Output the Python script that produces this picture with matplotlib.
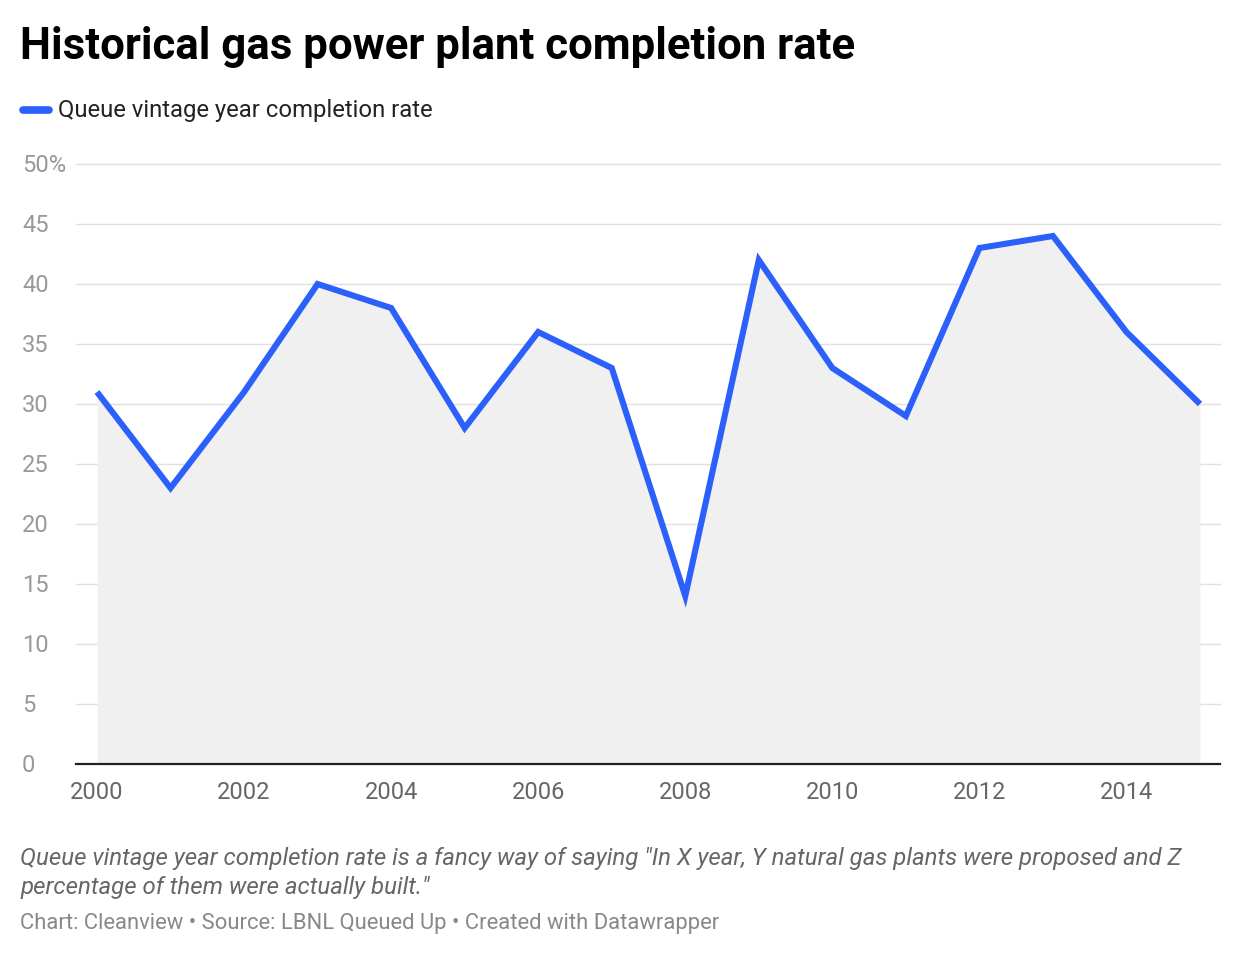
import matplotlib.pyplot as plt

plt.rcParams['font.family'] = ['Roboto', 'DejaVu Sans']

# Data
years = [2000, 2001, 2002, 2003, 2004, 2005, 2006, 2007,
         2008, 2009, 2010, 2011, 2012, 2013, 2014, 2015]
rate = [31, 23, 31, 40, 38, 28, 36, 33,
        14, 42, 33, 29, 43, 44, 36, 30]
y_ticks = [0, 5, 10, 15, 20, 25, 30, 35, 40, 45, 50]
y_labels = ['0', '5', '10', '15', '20', '25', '30', '35', '40', '45', '50%']
x_ticks = [2000, 2002, 2004, 2006, 2008, 2010, 2012, 2014]

title = "Historical gas power plant completion rate"
series_name = "Queue vintage year completion rate"
note = ('Queue vintage year completion rate is a fancy way of saying "In X year, '
        'Y natural gas plants were proposed and Z\npercentage of them were actually built."')
source = "Chart: Cleanview \u2022 Source: LBNL Queued Up \u2022 Created with Datawrapper"

W, H = 1240, 956
fig = plt.figure(figsize=(W / 100, H / 100), dpi=100)
ax = fig.add_axes([76 / W, 1 - 764 / H, (1220 - 76) / W, (764 - 164) / H])

blue = '#2b60fa'
ax.fill_between(years, rate, 0, color='#f0f0f0', lw=0, zorder=1)
ax.plot(years, rate, color=blue, lw=4.4, solid_joinstyle='miter',
        solid_capstyle='butt', zorder=3)

ax.set_xlim(2000 - 21 / 73.53, 2015 + 20 / 73.53)
ax.set_ylim(0, 50)

for v in y_ticks[1:]:
    ax.axhline(v, color='#e0e0e0', lw=1.0, zorder=0, clip_on=False)
ax.axhline(0, color='#222222', lw=1.6, zorder=4, clip_on=False)

for s in ax.spines.values():
    s.set_visible(False)
ax.set_yticks([])
ax.set_xticks(x_ticks)
ax.set_xticklabels([str(x) for x in x_ticks], fontsize=17, color='#666666')
ax.tick_params(axis='x', length=0, pad=12)

# y labels left aligned at figure edge
for v, lab in zip(y_ticks, y_labels):
    ax.annotate(lab, xy=(0, v), xycoords=('figure pixels', 'data'),
                xytext=(22, -2), textcoords='offset pixels',
                ha='left', va='center', fontsize=17, color='#999999')

fig.text(20 / W, 1 - 47 / H, title, fontsize=31.5, fontweight='bold',
         color='#000000', ha='left', va='center')

# legend
fig.add_artist(plt.Line2D([23 / W, 49 / W], [1 - 110 / H, 1 - 110 / H],
                          color=blue, lw=5.5, solid_capstyle='round',
                          transform=fig.transFigure))
fig.text(58 / W, 1 - 111 / H, series_name, fontsize=17.2, color='#222222',
         ha='left', va='center')

fig.text(20 / W, 1 - 873 / H, note, fontsize=17.3, style='italic',
         color='#666666', ha='left', va='center', linespacing=1.35)
fig.text(20 / W, 1 - 923 / H, source, fontsize=15.8, color='#888888',
         ha='left', va='center')

fig.savefig('out.png', dpi=100)
